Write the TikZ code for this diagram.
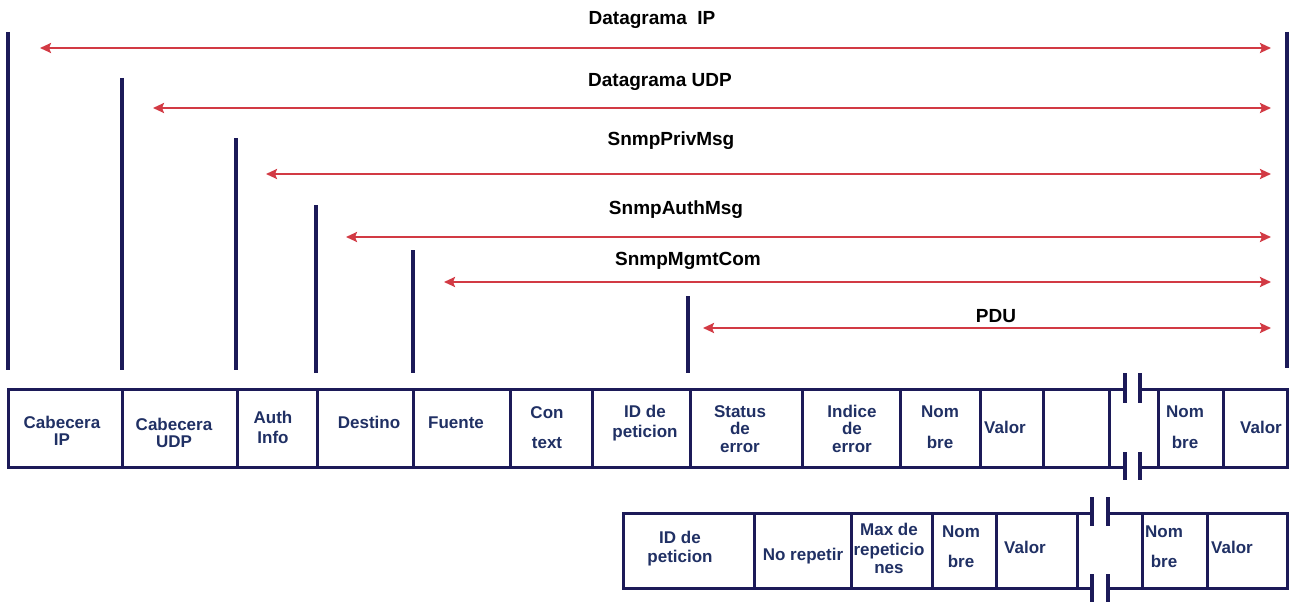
\documentclass[tikz,border=0pt]{standalone}
\usepackage{fontspec}
\setmainfont{Liberation Sans}
\usetikzlibrary{arrows.meta}
\definecolor{navy}{RGB}{28,26,88}
\definecolor{inknavy}{RGB}{32,48,100}
\definecolor{spanred}{RGB}{210,58,68}

\begin{document}
\begin{tikzpicture}[x=1pt,y=-1pt,
  bar/.style={draw=navy, line width=3.2pt},
  span/.style={draw=spanred, line width=2.8pt,
    {Stealth[length=11pt,width=10pt,inset=2pt]}-{Stealth[length=11pt,width=10pt,inset=2pt]}},
  title/.style={anchor=base, font=\fontsize{19}{22}\selectfont\bfseries, text=black, inner sep=0pt},
  field/.style={draw=navy, line width=3pt, inner sep=0pt, outer sep=0pt},
  toprow/.style={field, minimum height=77.5pt},
  lowrow/.style={field, minimum height=75pt},
  lbl/.style={anchor=base, align=center, font=\fontsize{17}{19}\selectfont\bfseries, text=inknavy, inner sep=0pt},
  rim/.style={draw=navy, line width=3pt},
  brk/.style={draw=navy, line width=4pt},
]
\useasboundingbox (0,0) rectangle (1294,602);

% ---------- boundary bars ----------
\coordinate (v0t) at (8,32);     \coordinate (v0b) at (8,370);
\coordinate (v1t) at (122,78);   \coordinate (v1b) at (122,370);
\coordinate (v2t) at (236,138);  \coordinate (v2b) at (236,370);
\coordinate (v3t) at (316,205);  \coordinate (v3b) at (316,373);
\coordinate (v4t) at (413,250);  \coordinate (v4b) at (413,373);
\coordinate (v5t) at (688,296);  \coordinate (v5b) at (688,373);
\coordinate (vet) at (1287,32);  \coordinate (veb) at (1287,368);
\foreach \v in {v0,v1,v2,v3,v4,v5,ve} \draw[bar] (\v t) -- (\v b);

% ---------- encapsulation spans ----------
\coordinate (s0l) at (40,48);   \coordinate (s0r) at (1271,48);
\coordinate (s1l) at (153,108); \coordinate (s1r) at (1271,108);
\coordinate (s2l) at (266,174); \coordinate (s2r) at (1271,174);
\coordinate (s3l) at (346,237); \coordinate (s3r) at (1271,237);
\coordinate (s4l) at (444,282); \coordinate (s4r) at (1271,282);
\coordinate (s5l) at (703,328); \coordinate (s5r) at (1271,328);
\foreach \s in {s0,s1,s2,s3,s4,s5} \draw[span] (\s l) -- (\s r);

\node[title] (tip)   at (652,25)  {Datagrama~~IP};
\node[title] (tudp)  at (660,87)  {Datagrama UDP};
\node[title] (tpriv) at (671,146) {SnmpPrivMsg};
\node[title] (tauth) at (676,214) {SnmpAuthMsg};
\node[title] (tmgmt) at (688,265) {SnmpMgmtCom};
\node[title] (tpdu)  at (996,322) {PDU};

% ---------- message fields ----------
\node[toprow, minimum width=114pt] (c1)  at (65,428.25)   {};
\node[toprow, minimum width=115pt] (c2)  at (179.5,428.25) {};
\node[toprow, minimum width=80pt]  (c3)  at (277,428.25)  {};
\node[toprow, minimum width=96pt]  (c4)  at (365,428.25)  {};
\node[toprow, minimum width=97pt]  (c5)  at (461.5,428.25) {};
\node[toprow, minimum width=82pt]  (c6)  at (551,428.25)  {};
\node[toprow, minimum width=98pt]  (c7)  at (641,428.25)  {};
\node[toprow, minimum width=112pt] (c8)  at (746,428.25)  {};
\node[toprow, minimum width=98pt]  (c9)  at (851,428.25)  {};
\node[toprow, minimum width=80pt]  (c10) at (940,428.25)  {};
\node[toprow, minimum width=63pt]  (c11) at (1011.5,428.25) {};
\node[toprow, minimum width=66pt]  (c12) at (1076,428.25) {};
\node[toprow, minimum width=65pt]  (c13) at (1190.5,428.25) {};
\node[toprow, minimum width=64pt]  (c14) at (1255,428.25) {};

% open section with break marks
\coordinate (ga1) at (1125,389.5); \coordinate (gb1) at (1140,389.5);
\coordinate (ga2) at (1125,467);   \coordinate (gb2) at (1140,467);
\draw[rim] (c12.north east) -- (ga1);  \draw[rim] (gb1) -- (c13.north west);
\draw[rim] (c12.south east) -- (ga2);  \draw[rim] (gb2) -- (c13.south west);
\coordinate (k1a) at (1125,373); \coordinate (k1b) at (1125,403);
\coordinate (k2a) at (1140,373); \coordinate (k2b) at (1140,403);
\coordinate (k3a) at (1125,452); \coordinate (k3b) at (1125,480);
\coordinate (k4a) at (1140,452); \coordinate (k4b) at (1140,480);
\foreach \k in {k1,k2,k3,k4} \draw[brk] (\k a) -- (\k b);

% labels are placed by the baseline of their last line
\node[lbl] (l1)  at (62,445)   {Cabecera\\[-2pt]IP};
\node[lbl] (l2)  at (174,447)  {Cabecera\\[-2pt]UDP};
\node[lbl] (l3)  at (273,443)  {Auth\\[1pt]Info};
\node[lbl] (l4)  at (369,428)  {Destino};
\node[lbl] (l5)  at (456,428)  {Fuente};
\node[lbl] (l6)  at (547,448)  {Con\\[11pt]text};
\node[lbl] (l7)  at (645,437)  {ID de\\[1pt]peticion};
\node[lbl] (l8)  at (740,452)  {Status\\[-1.5pt]de\\[-1.5pt]error};
\node[lbl] (l9)  at (852,452)  {Indice\\[-1.5pt]de\\[-1.5pt]error};
\node[lbl] (l10) at (940,448)  {Nom\\[12pt]bre};
\node[lbl] (l11) at (1005,433) {Valor};
\node[lbl] (l13) at (1185,448) {Nom\\[12pt]bre};
\node[lbl] (l14) at (1261,433) {Valor};

% ---------- GetBulk PDU fields ----------
\node[lowrow, minimum width=131pt] (b1) at (688.5,550.5)  {};
\node[lowrow, minimum width=97pt]  (b2) at (802.5,550.5)  {};
\node[lowrow, minimum width=81pt]  (b3) at (891.5,550.5)  {};
\node[lowrow, minimum width=64pt]  (b4) at (964,550.5)    {};
\node[lowrow, minimum width=81pt]  (b5) at (1036.5,550.5) {};
\node[lowrow, minimum width=65pt]  (b6) at (1174.5,550.5) {};
\node[lowrow, minimum width=80pt]  (b7) at (1247,550.5)   {};

\coordinate (ha1) at (1092,513); \coordinate (hb1) at (1108,513);
\coordinate (ha2) at (1092,588); \coordinate (hb2) at (1108,588);
\draw[rim] (b5.north east) -- (ha1);  \draw[rim] (hb1) -- (b6.north west);
\draw[rim] (b5.south east) -- (ha2);  \draw[rim] (hb2) -- (b6.south west);
\coordinate (m1a) at (1092,497); \coordinate (m1b) at (1092,526);
\coordinate (m2a) at (1108,497); \coordinate (m2b) at (1108,526);
\coordinate (m3a) at (1092,574); \coordinate (m3b) at (1092,602);
\coordinate (m4a) at (1108,574); \coordinate (m4b) at (1108,602);
\foreach \m in {m1,m2,m3,m4} \draw[brk] (\m a) -- (\m b);

\node[lbl] (p1) at (680,562)  {ID de\\[0pt]peticion};
\node[lbl] (p2) at (803,560)  {No repetir};
\node[lbl] (p3) at (889,573)  {Max de\\[1pt]repeticio\\[-1pt]nes};
\node[lbl] (p4) at (961,567)  {Nom\\[11pt]bre};
\node[lbl] (p5) at (1025,553) {Valor};
\node[lbl] (p6) at (1164,567) {Nom\\[11pt]bre};
\node[lbl] (p7) at (1232,553) {Valor};
\end{tikzpicture}
\end{document}
